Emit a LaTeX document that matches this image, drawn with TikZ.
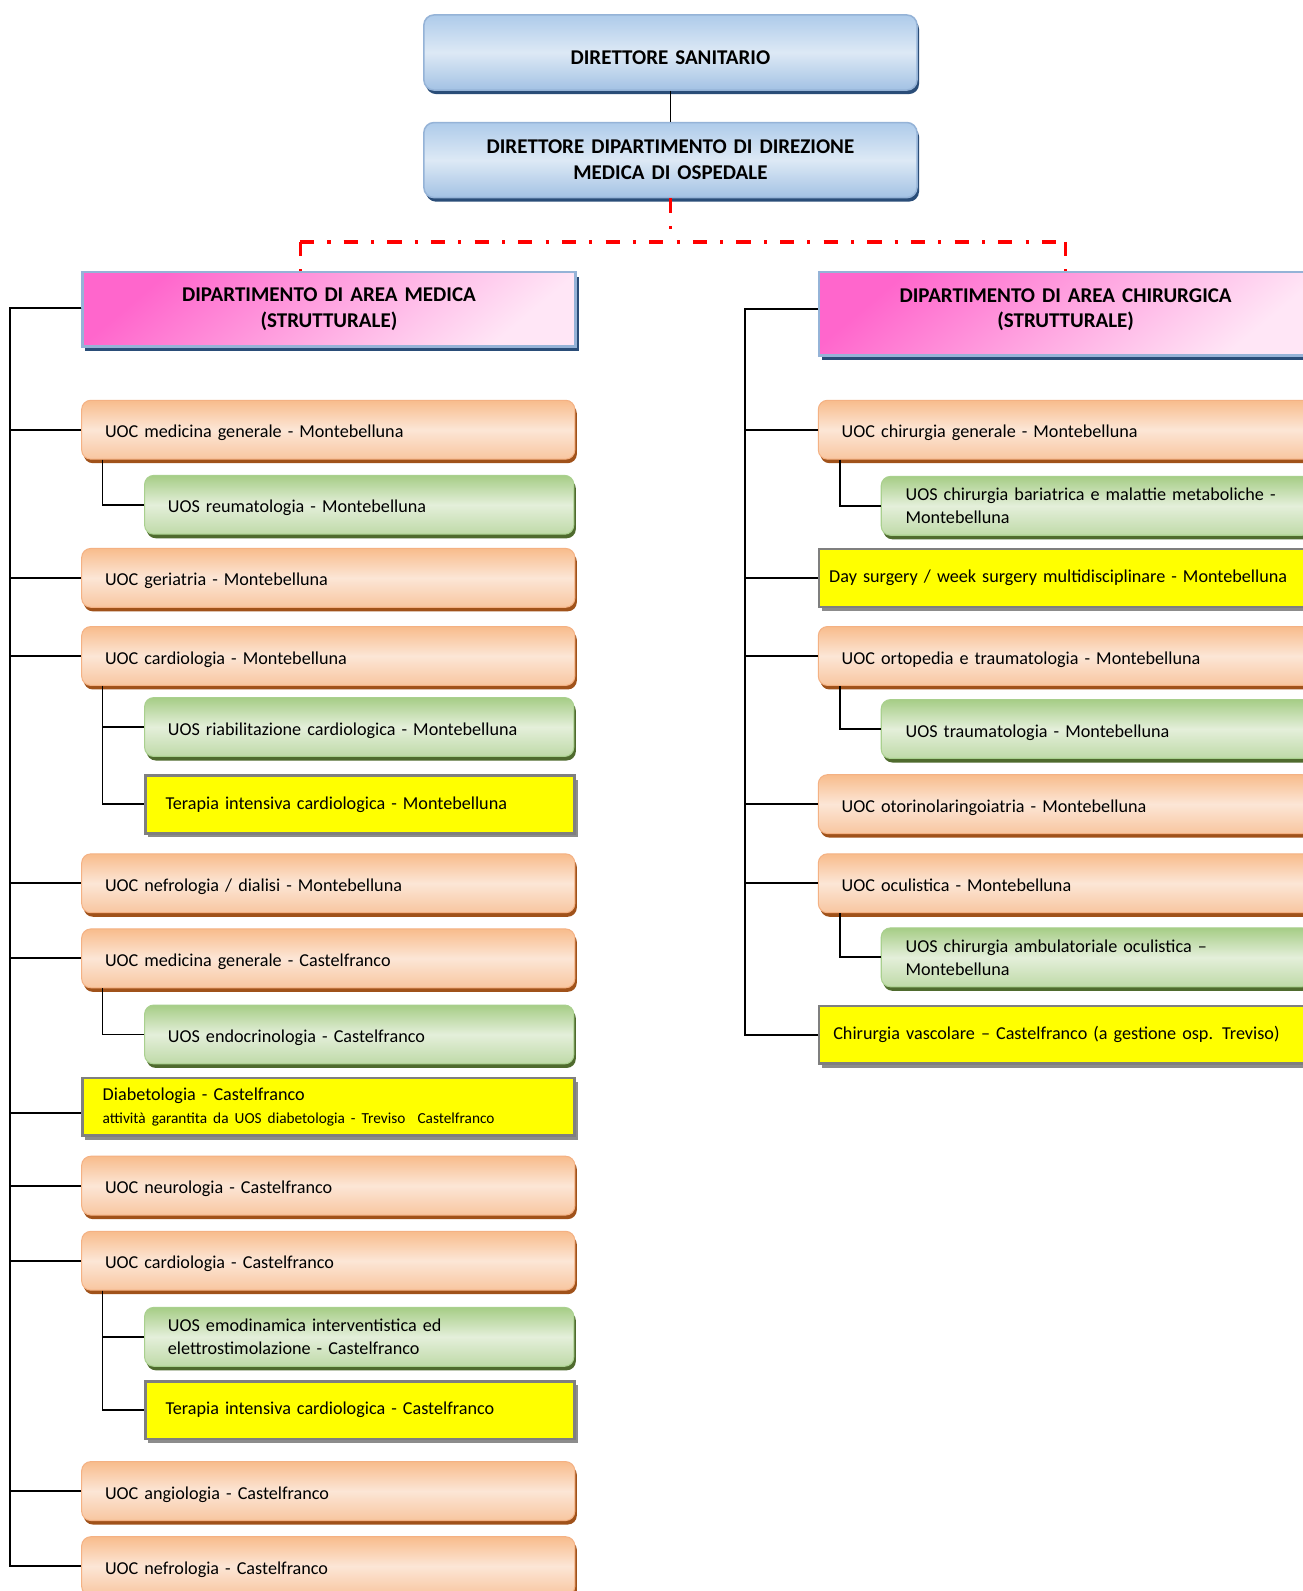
\documentclass[tikz,border=0pt]{standalone}
\usepackage{fontspec}
\setmainfont{Carlito}
\usetikzlibrary{shadows,calc}
\definecolor{oTop}{HTML}{F8BC8C}
\definecolor{oMid}{HTML}{FCE6D6}
\definecolor{oBot}{HTML}{F8C6A0}
\definecolor{oLine}{HTML}{F4B183}
\definecolor{oShadow}{HTML}{A0521A}
\definecolor{gTop}{HTML}{A6CD86}
\definecolor{gMid}{HTML}{E4EFDA}
\definecolor{gBot}{HTML}{BFDAA8}
\definecolor{gLine}{HTML}{A9D08E}
\definecolor{gShadow}{HTML}{4F6B2E}
\definecolor{bTop}{HTML}{AECBEA}
\definecolor{bMid}{HTML}{DDE9F5}
\definecolor{bBot}{HTML}{A3C2E4}
\definecolor{bLine}{HTML}{95B3D7}
\definecolor{bShadow}{HTML}{2A4D78}
\definecolor{pTop}{HTML}{FF66CC}
\definecolor{pBot}{HTML}{FFE6F6}
\definecolor{yFill}{HTML}{FFFF00}
\definecolor{yLine}{HTML}{7F7F7F}
\definecolor{yShadow}{HTML}{8C8C8C}
\newcommand\fsN{\fontsize{17.9}{22.5}\selectfont}
\newcommand\fsB{\fontsize{20.7}{25.5}\selectfont\bfseries}
\newcommand\fsS{\fontsize{15.1}{19}\selectfont}
\begin{document}
\begin{tikzpicture}[x=1pt,y=-1pt,
  box/.style={anchor=north west, inner ysep=0pt, align=left, font=\fsN, text=black},
  oneline/.style={text height=19.5pt, text depth=3.5pt},
  uocm/.style={box, rounded corners=9pt, draw=oLine, line width=1pt,
    top color=oTop, bottom color=oBot, middle color=oMid,
    minimum width=486pt, minimum height=58pt, inner xsep=23pt, text width=440pt,
    drop shadow={shadow xshift=2pt, shadow yshift=-4pt, opacity=1, fill=oShadow}},
  uoc/.style={uocm, oneline},
  uosm/.style={box, rounded corners=9pt, draw=gLine, line width=1pt,
    top color=gTop, bottom color=gBot, middle color=gMid,
    minimum width=423pt, minimum height=58pt, inner xsep=23pt, text width=377pt,
    drop shadow={shadow xshift=2pt, shadow yshift=-4pt, opacity=1, fill=gShadow}},
  uos/.style={uosm, oneline},
  yel/.style={box, fill=yFill, draw=yLine, line width=2.5pt,
    minimum height=57pt, inner xsep=20pt,
    drop shadow={shadow xshift=3pt, shadow yshift=-4pt, opacity=1, fill=yShadow}},
  titlebox/.style={box, align=center, font=\fsB, rounded corners=10pt, draw=bLine, line width=1.5pt,
    top color=bTop, bottom color=bBot, middle color=bMid,
    minimum width=486pt, minimum height=74pt, inner xsep=10pt, text width=466pt,
    drop shadow={shadow xshift=2pt, shadow yshift=-4pt, opacity=1, fill=bShadow}},
  deptbox/.style={box, align=center, font=\fsB, draw=bLine, line width=2.5pt,
    top color=pTop, bottom color=pBot, shading angle=40,
    minimum width=486pt, inner xsep=10pt, text width=466pt,
    drop shadow={shadow xshift=3pt, shadow yshift=-5pt, opacity=1, fill=bShadow}},
  conn/.style={draw=black, line width=1.8pt},
  reddash/.style={draw=red, line width=3pt, dash pattern=on 14pt off 13pt on 3pt off 13pt}
]
\clip (0,0) rectangle (1284,1568);
\fill[white] (0,0) rectangle (1284,1568);

% top
\node[titlebox, text height=23.5pt, text depth=0pt] (ds) at (417,14) {DIRETTORE SANITARIO};
\node[titlebox] (dd) at (417,120) {DIRETTORE DIPARTIMENTO DI DIREZIONE\\MEDICA DI OSPEDALE};

% departments
\node[deptbox, minimum height=73pt] (dm) at (80,267) {DIPARTIMENTO DI AREA MEDICA\\(STRUTTURALE)};
\node[deptbox, minimum height=82pt, text height=13.5pt, text depth=36.5pt] (dc) at (806,267) {DIPARTIMENTO DI AREA CHIRURGICA\\(STRUTTURALE)};

% left column
\node[uoc] (m1) at (80,394) {UOC medicina generale - Montebelluna};
\node[uos] (s1) at (142,468) {UOS reumatologia - Montebelluna};
\node[uoc] (m2) at (80,540) {UOC geriatria - Montebelluna};
\node[uoc] (m3) at (80,617) {UOC cardiologia - Montebelluna};
\node[uos] (s2) at (142,687) {UOS riabilitazione cardiologica - Montebelluna};
\node[yel, minimum width=423pt, text width=383pt] (y1) at (142,763) {Terapia intensiva cardiologica - Montebelluna};
\node[uoc] (m4) at (80,841) {UOC nefrologia / dialisi - Montebelluna};
\node[uoc] (m5) at (80,915) {UOC medicina generale - Castelfranco};
\node[uos] (s3) at (142,990) {UOS endocrinologia - Castelfranco};
\node[yel, minimum width=485pt, text width=445pt] (y2) at (80,1061) {Diabetologia - Castelfranco\\{\fsS attività garantita da UOS diabetologia - Treviso~~Castelfranco}};
\node[uoc] (m6) at (80,1139) {UOC neurologia - Castelfranco};
\node[uoc] (m7) at (80,1213) {UOC cardiologia - Castelfranco};
\node[uosm] (s4) at (142,1288) {UOS emodinamica interventistica ed\\elettrostimolazione - Castelfranco};
\node[yel, minimum width=423pt, text width=383pt] (y3) at (142,1360) {Terapia intensiva cardiologica - Castelfranco};
\node[uoc] (m8) at (80,1440) {UOC angiologia - Castelfranco};
\node[uoc] (m9) at (80,1514) {UOC nefrologia - Castelfranco};

% right column
\node[uoc] (r1) at (806,394) {UOC chirurgia generale - Montebelluna};
\node[uosm, minimum width=424pt, inner xsep=24pt, text width=376pt] (t1) at (868,469) {UOS chirurgia bariatrica e malattie metaboliche -\\Montebelluna};
\node[yel, minimum width=486pt, inner xsep=10pt, text width=466pt] (z1) at (806,540) {Day surgery / week surgery multidisciplinare - Montebelluna};
\node[uoc] (r2) at (806,617) {UOC ortopedia e traumatologia - Montebelluna};
\node[uos, minimum width=424pt, inner xsep=24pt, text width=376pt] (t2) at (868,689) {UOS traumatologia - Montebelluna};
\node[uoc] (r3) at (806,763) {UOC otorinolaringoiatria - Montebelluna};
\node[uoc] (r4) at (806,841) {UOC oculistica - Montebelluna};
\node[uosm, minimum width=424pt, inner xsep=24pt, text width=376pt] (t3) at (868,914) {UOS chirurgia ambulatoriale oculistica --\\Montebelluna};
\node[yel, minimum width=486pt, inner xsep=14pt, text width=458pt] (z2) at (806,990) {Chirurgia vascolare -- Castelfranco (a gestione osp. Treviso)};

% connectors top
\draw[conn] (ds.south) -- (dd.north);
\coordinate (rj) at ($(dd.south)+(0,43)$);
\coordinate (rl) at ([xshift=-28.5pt]dm.north |- rj);
\coordinate (rr) at (dc.north |- rj);
\draw[reddash] (dd.south) -- (rj);
\draw[reddash] (rl) -- (rr);
\draw[reddash] (rl) -- ([xshift=-28.5pt]dm.north);
\draw[reddash] (rr) -- (dc.north);

% left trunk
\foreach \n in {m1,m2,m3,m4,m5,m6,m7,m8,m9}
  \draw[conn] ([yshift=1pt]dm.west) -- ++(-70,0) |- (\n.west);
\draw[conn] ([yshift=1pt]dm.west) -- ++(-70,0) |- ([yshift=-6pt]y2.west);
% left subs
\draw[conn] ([xshift=21pt]m1.south west) |- (s1.west);
\draw[conn] ([xshift=21pt]m3.south west) |- (s2.west);
\draw[conn] ([xshift=21pt]m3.south west) |- (y1.west);
\draw[conn] ([xshift=21pt]m5.south west) |- (s3.west);
\draw[conn] ([xshift=21pt]m7.south west) |- (s4.west);
\draw[conn] ([xshift=21pt]m7.south west) |- (y3.west);

% right trunk
\foreach \n in {r1,z1,r2,r3,r4,z2}
  \draw[conn] ([yshift=5pt]dc.west) -- ++(-72,0) |- (\n.west);
\draw[conn] ([xshift=22pt]r1.south west) |- (t1.west);
\draw[conn] ([xshift=22pt]r2.south west) |- (t2.west);
\draw[conn] ([xshift=22pt]r4.south west) |- (t3.west);
\end{tikzpicture}
\end{document}
